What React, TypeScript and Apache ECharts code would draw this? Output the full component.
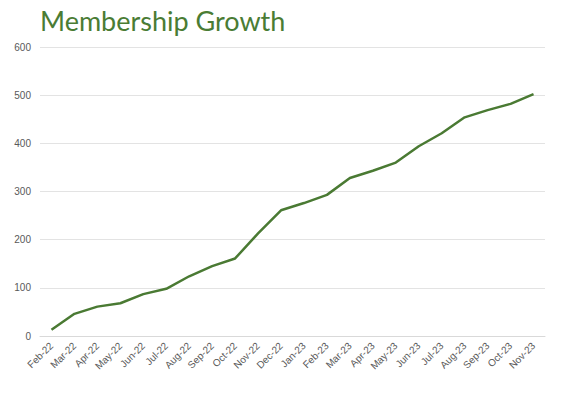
import React, { useEffect, useRef } from "react";
import * as echarts from "echarts";

const months = [
  "Feb-22", "Mar-22", "Apr-22", "May-22", "Jun-22", "Jul-22", "Aug-22", "Sep-22", "Oct-22", "Nov-22", "Dec-22",
  "Jan-23", "Feb-23", "Mar-23", "Apr-23", "May-23", "Jun-23", "Jul-23", "Aug-23", "Sep-23", "Oct-23", "Nov-23",
];
const members = [13, 46, 61, 68, 87, 98, 124, 145, 161, 213, 261, 276, 293, 328, 343, 360, 394, 421, 454, 469, 482, 502];
const title = "Membership Growth";

export default function App() {
  const ref = useRef<HTMLDivElement>(null);
  useEffect(() => {
    if (!ref.current) return;
    const chart = echarts.init(ref.current, null, { renderer: "svg" });
    chart.setOption({
      animation: false,
      backgroundColor: "#ffffff",
      title: {
        text: title,
        left: 35,
        top: 2,
        textStyle: { color: "#4a7c34", fontFamily: "Lato", fontWeight: "normal", fontSize: 27 },
      },
      grid: { left: 40, right: 33, top: 47, bottom: 57 },
      xAxis: {
        type: "category",
        data: months,
        boundaryGap: true,
        axisLine: { show: true, lineStyle: { color: "#d9d9d9" } },
        axisTick: { show: false },
        axisLabel: { rotate: 45, color: "#595959", fontSize: 10, fontFamily: "Liberation Sans", interval: 0, margin: 8 },
      },
      yAxis: {
        type: "value",
        min: 0,
        max: 600,
        interval: 100,
        axisLine: { show: false },
        axisTick: { show: false },
        axisLabel: { color: "#595959", fontSize: 10, fontFamily: "Liberation Sans", margin: 9 },
        splitLine: { lineStyle: { color: "#e3e3e3" } },
      },
      series: [
        {
          type: "line",
          data: members,
          showSymbol: false,
          lineStyle: { color: "#4a7a33", width: 2.5 },
          itemStyle: { color: "#4a7a33" },
        },
      ],
    });
    return () => chart.dispose();
  }, []);
  return <div ref={ref} style={{ width: 578, height: 393, position: "absolute", left: 0, top: 0 }} />;
}
